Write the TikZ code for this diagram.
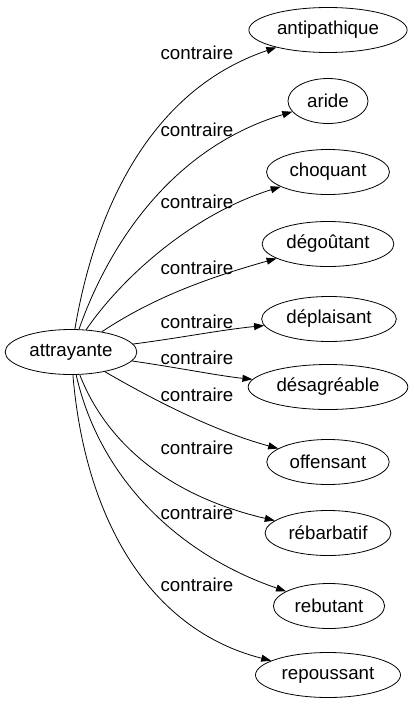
\documentclass[tikz,border=0pt]{standalone}
\usepackage{fontspec}
\setmainfont{Liberation Sans}
\usetikzlibrary{arrows.meta, shapes.geometric}

\begin{document}
\begin{tikzpicture}[x=1pt,y=-1pt,->,>={Triangle[length=10pt,width=7pt]},line width=0.8pt,
    word/.style={ellipse,draw,minimum height=45pt,inner xsep=5pt,font=\fontsize{18.7}{22}\selectfont},
    lbl/.style={inner sep=0pt,font=\fontsize{18.7}{22}\selectfont}]
  \useasboundingbox (0,0) rectangle (413,707);

  \node[word] (attrayante) at (71,352) {attrayante};
  \node[word] (antipathique) at (328,30) {antipathique};
  \node[word,minimum width=80pt] (aride) at (328,101) {aride};
  \node[word] (choquant) at (328,172) {choquant};
  \node[word] (degoutant) at (328,244) {dégoûtant};
  \node[word] (deplaisant) at (329,319) {déplaisant};
  \node[word] (desagreable) at (328,387) {désagréable};
  \node[word] (offensant) at (328,462) {offensant};
  \node[word] (rebarbatif) at (328,533) {rébarbatif};
  \node[word] (rebutant) at (329,606) {rebutant};
  \node[word] (repoussant) at (328,675) {repoussant};

  % labels
  \node[lbl] (l1) at (197,53) {contraire};
  \node[lbl] (l2) at (197,130) {contraire};
  \node[lbl] (l3) at (197,202) {contraire};
  \node[lbl] (l4) at (197,268) {contraire};
  \node[lbl] (l5) at (197,322) {contraire};
  \node[lbl] (l6) at (197,358) {contraire};
  \node[lbl] (l7) at (197,395) {contraire};
  \node[lbl] (l8) at (197,448) {contraire};
  \node[lbl] (l9) at (197,513) {contraire};
  \node[lbl] (l10) at (197,585) {contraire};

  \draw (attrayante) .. controls (95,210) and (150,90) .. (antipathique);
  \draw (attrayante) .. controls (105,255) and (165,150) .. (aride);
  \draw (attrayante) .. controls (120,280) and (190,215) .. (choquant);
  \draw (attrayante) .. controls (150,300) and (200,280) .. (degoutant);
  \draw (attrayante) .. controls (180,338) and (220,330) .. (deplaisant);
  \draw (attrayante) .. controls (180,368) and (220,376) .. (desagreable);
  \draw (attrayante) .. controls (145,395) and (210,430) .. (offensant);
  \draw (attrayante) .. controls (105,440) and (165,495) .. (rebarbatif);
  \draw (attrayante) .. controls (100,480) and (180,555) .. (rebutant);
  \draw (attrayante) .. controls (85,520) and (150,630) .. (repoussant);
\end{tikzpicture}
\end{document}
